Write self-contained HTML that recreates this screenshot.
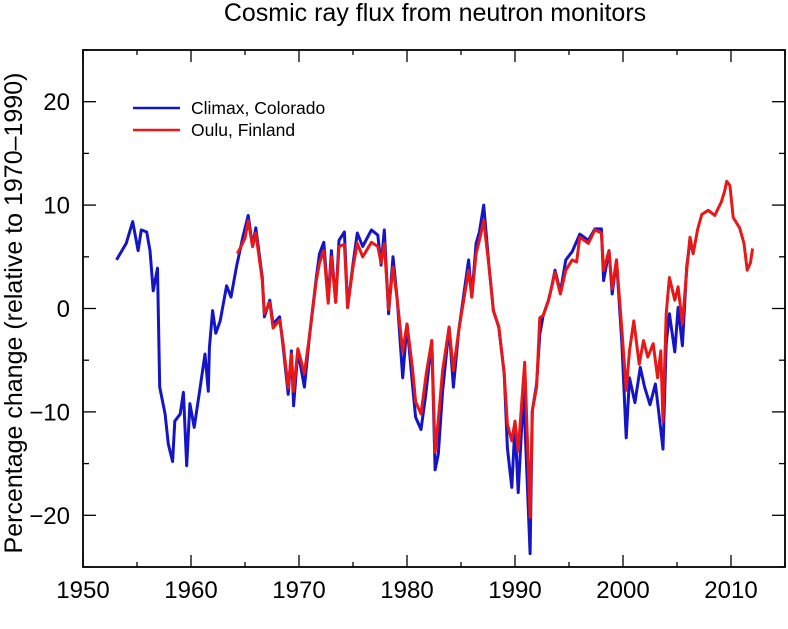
<!DOCTYPE html>
<html><head><meta charset="utf-8">
<style>
html,body{margin:0;padding:0;background:#fff;}
svg{display:block;font-family:"Liberation Sans",Arial,sans-serif;}
</style></head>
<body>
<svg id="chart" width="788" height="629" viewBox="0 0 788 629">
  <text x="435" y="21" text-anchor="middle" font-size="25" fill="#000">Cosmic ray flux from neutron monitors</text>
  <text transform="translate(22,313) rotate(-90)" text-anchor="middle" font-size="25" fill="#000">Percentage change (relative to 1970–1990)</text>
  <g id="ticks"></g>
  <g id="series"></g>
  <rect x="83" y="50" width="702" height="517" fill="none" stroke="#000" stroke-width="1.8"/>
  <g>
    <line x1="133" y1="108" x2="180" y2="108" stroke="#1515c8" stroke-width="2.5"/>
    <text x="191" y="114" font-size="17.5" fill="#000">Climax, Colorado</text>
    <line x1="133" y1="130" x2="180" y2="130" stroke="#e81818" stroke-width="2.5"/>
    <text x="191" y="136" font-size="17.5" fill="#000">Oulu, Finland</text>
  </g>
</svg>
<script>
const xTicks = [1950,1960,1970,1980,1990,2000,2010];
const yTicks = [-20,-10,0,10,20];
const climaxYears = [1953.1,1954.0,1954.6,1955.1,1955.4,1955.9,1956.2,1956.5,1956.9,1957.1,1957.6,1957.9,1958.3,1958.5,1959.0,1959.3,1959.6,1959.9,1960.3,1960.8,1961.3,1961.6,1961.7,1962.0,1962.3,1962.7,1963.3,1963.7,1964.2,1964.8,1965.3,1965.7,1966.0,1966.6,1966.8,1967.3,1967.6,1968.2,1968.5,1969.0,1969.3,1969.5,1969.9,1970.5,1971.0,1971.6,1971.9,1972.3,1972.7,1973.0,1973.4,1973.7,1974.2,1974.5,1975.0,1975.4,1975.9,1976.7,1977.3,1977.6,1977.9,1978.3,1978.7,1979.1,1979.6,1980.0,1980.5,1980.8,1981.3,1981.7,1982.3,1982.6,1982.9,1983.3,1983.9,1984.3,1984.8,1985.7,1986.0,1986.4,1986.7,1987.1,1987.6,1988.0,1988.5,1989.0,1989.3,1989.7,1990.0,1990.3,1990.8,1991.4,1991.6,1992.0,1992.3,1992.6,1993.1,1993.4,1993.7,1994.2,1994.7,1995.3,1996.0,1996.8,1997.4,1998.0,1998.2,1998.7,1999.0,1999.4,1999.9,2000.3,2000.6,2001.1,2001.6,2002.0,2002.5,2003.0,2003.3,2003.7,2004.0,2004.3,2004.8,2005.1,2005.5,2005.9,2006.2,2006.5];
const climaxValues = [4.7,6.3,8.4,5.6,7.6,7.4,5.6,1.7,3.9,-7.6,-10.2,-13.1,-14.8,-10.9,-10.2,-8.1,-15.2,-9.2,-11.5,-8.0,-4.4,-8.0,-3.8,-0.2,-2.4,-1.2,2.2,1.1,4.0,6.9,9.0,6.0,7.8,3.0,-0.8,0.8,-1.5,-0.8,-3.4,-8.3,-4.1,-9.4,-4.1,-7.6,-2.4,3.0,5.3,6.4,0.8,5.6,0.6,6.6,7.4,0.1,4.3,7.3,6.0,7.6,7.1,4.2,7.6,-0.5,5.0,0.8,-6.7,-1.5,-7.3,-10.5,-11.7,-8.6,-3.1,-15.6,-14.1,-8.0,-1.8,-7.6,-2.1,4.7,1.1,6.3,7.4,10.0,4.0,-0.2,-1.8,-6.3,-13.5,-17.3,-11.2,-17.8,-8.0,-23.7,-9.9,-7.3,-2.5,-0.7,0.8,2.1,3.7,1.6,4.7,5.5,7.2,6.6,7.7,7.7,2.7,5.6,1.4,4.7,-3.4,-12.5,-6.7,-9.1,-5.7,-7.6,-9.3,-7.3,-9.9,-13.6,-3.4,-0.5,-4.2,0.1,-3.6,4.0,6.6,5.3];
const ouluYears = [1964.3,1965.0,1965.3,1965.7,1966.0,1966.6,1966.8,1967.3,1967.6,1968.2,1968.5,1969.0,1969.3,1969.5,1969.9,1970.5,1971.0,1971.6,1971.9,1972.3,1972.7,1973.0,1973.4,1973.7,1974.2,1974.5,1975.0,1975.4,1975.9,1976.7,1977.3,1977.6,1977.9,1978.3,1978.7,1979.1,1979.6,1980.0,1980.5,1980.8,1981.3,1981.8,1982.3,1982.6,1982.9,1983.3,1983.9,1984.3,1984.8,1985.7,1986.0,1986.4,1986.7,1987.1,1987.6,1988.0,1988.5,1989.0,1989.3,1989.7,1990.0,1990.3,1990.9,1991.4,1991.6,1992.0,1992.3,1992.6,1993.1,1993.4,1993.7,1994.2,1994.7,1995.3,1995.7,1996.0,1996.8,1997.4,1998.0,1998.2,1998.7,1999.0,1999.4,1999.9,2000.3,2000.6,2001.0,2001.5,2001.9,2002.3,2002.8,2003.2,2003.5,2003.7,2004.0,2004.3,2004.8,2005.1,2005.5,2005.9,2006.2,2006.5,2006.9,2007.3,2007.9,2008.5,2009.1,2009.4,2009.6,2009.9,2010.2,2010.8,2011.2,2011.5,2011.8,2012.0];
const ouluValues = [5.3,6.8,8.5,6.0,7.3,2.7,-0.5,0.6,-1.9,-1.1,-3.1,-7.7,-4.4,-8.0,-3.9,-6.3,-2.4,2.7,4.4,5.6,0.5,5.0,0.6,6.0,6.2,0.1,4.0,6.3,5.0,6.4,6.0,4.4,6.3,-0.1,4.0,0.8,-4.2,-1.5,-5.7,-9.0,-10.2,-6.2,-3.1,-13.9,-10.8,-6.0,-1.8,-6.0,-2.1,3.7,1.1,5.3,6.6,8.5,4.0,-0.2,-1.8,-6.3,-11.2,-12.8,-10.9,-13.8,-5.2,-20.2,-9.9,-7.6,-0.9,-0.7,0.8,2.1,3.5,1.4,3.7,4.7,4.5,6.9,6.3,7.6,7.3,3.7,5.6,1.9,4.7,-2.1,-7.9,-4.1,-1.2,-5.4,-3.1,-4.7,-3.4,-6.7,-4.1,-10.9,-0.5,3.0,0.8,2.1,-1.5,3.7,6.9,5.3,7.6,9.1,9.5,9.0,10.3,11.3,12.3,11.9,8.8,7.8,6.3,3.7,4.4,5.8];

const X0=83, X1=785, Y0=50, Y1=567;
const xMin=1950, xMax=2015, yMin=-25, yMax=25;
function xs(v){return X0+(v-xMin)/(xMax-xMin)*(X1-X0);}
function ys(v){return Y1-(v-yMin)/(yMax-yMin)*(Y1-Y0);}
const NS="http://www.w3.org/2000/svg";
const tg=document.getElementById('ticks');
function ln(x1,y1,x2,y2,name){
  const l=document.createElementNS(NS,'line');
  l.setAttribute('x1',x1);l.setAttribute('y1',y1);l.setAttribute('x2',x2);l.setAttribute('y2',y2);
  l.setAttribute('stroke','#000');l.setAttribute('stroke-width','1.3');
  
  
  tg.appendChild(l);
}
for(let y=xMin;y<=xMax;y+=5){
  const x=xs(y), len=(y%10===0)?12:5;
  ln(x,Y1,x,Y1-len,'x-tick');
  ln(x,Y0,x,Y0+len,'x-tick-top');
}
for(let v=yMin;v<=yMax;v+=5){
  const y=ys(v), len=(v%10===0)?13:6;
  ln(X0,y,X0+len,y,'y-tick');
  ln(X1,y,X1-len,y,'y-tick-right');
}
xTicks.forEach(t=>{
  const tx=document.createElementNS(NS,'text');
  tx.setAttribute('x',xs(t));tx.setAttribute('y',598);
  tx.setAttribute('text-anchor','middle');tx.setAttribute('font-size','24');
  tx.textContent=t;
  
  
  tg.appendChild(tx);
});
yTicks.forEach(t=>{
  const tx=document.createElementNS(NS,'text');
  tx.setAttribute('x',X0-13);tx.setAttribute('y',ys(t)+8.5);
  tx.setAttribute('text-anchor','end');tx.setAttribute('font-size','24');
  tx.textContent=(t<0?'\u2212'+Math.abs(t):String(t));
  
  
  tg.appendChild(tx);
});
const sg=document.getElementById('series');
function series(yrs,vals,color,name){
  const p=document.createElementNS(NS,'polyline');
  p.setAttribute('points',yrs.map((y,i)=>xs(y).toFixed(1)+','+ys(vals[i]).toFixed(1)).join(' '));
  p.setAttribute('fill','none');p.setAttribute('stroke',color);
  p.setAttribute('stroke-width','3');p.setAttribute('stroke-linejoin','round');
  
  
  sg.appendChild(p);
}
series(climaxYears,climaxValues,'#1515c8','climax-series');
series(ouluYears,ouluValues,'#e81818','oulu-series');
</script>
</body></html>
